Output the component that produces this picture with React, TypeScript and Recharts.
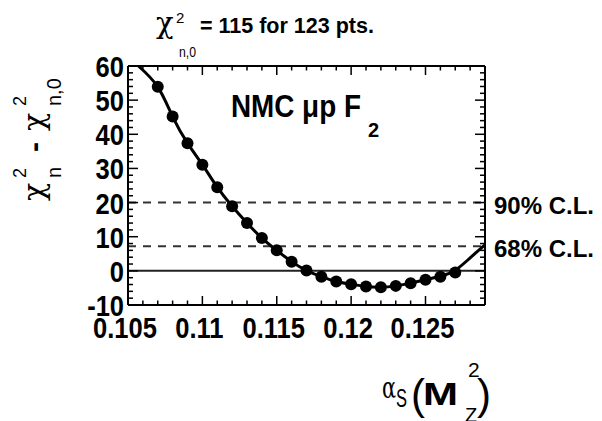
import React from 'react';
import {
  ComposedChart,
  Line,
  Scatter,
  XAxis,
  YAxis,
  ReferenceLine
} from 'recharts';

// scan points: alpha_s(M_Z^2) vs chi2_n - chi2_n,0
const alphaS = [
  0.107, 0.108, 0.109, 0.11, 0.111, 0.112, 0.113, 0.114, 0.115, 0.116, 0.117,
  0.118, 0.119, 0.12, 0.121, 0.122, 0.123, 0.124, 0.125, 0.126, 0.127
];
const deltaChi2 = [
  53.9, 45.2, 37.4, 31.1, 24.5, 18.9, 14.0, 9.6, 6.0, 2.7, 0.1,
  -1.7, -3.1, -3.9, -4.6, -4.8, -4.4, -3.6, -2.6, -1.7, -0.5
];

// fitted curve
const fitAlphaS = [
  0.1057, 0.107, 0.108, 0.109, 0.11, 0.111, 0.112, 0.113, 0.114, 0.115, 0.116, 0.117,
  0.118, 0.119, 0.12, 0.121, 0.122, 0.123, 0.124, 0.125, 0.126, 0.127, 0.128, 0.129
];
const fitChi2 = [
  60, 53.9, 45.2, 37.4, 31.1, 24.5, 18.9, 14.0, 9.6, 6.0, 2.7, 0.1,
  -1.7, -3.1, -3.9, -4.6, -4.8, -4.4, -3.6, -2.6, -1.6, 0.2, 3.8, 7.6
];

const clLevels = [20, 7.2];
const clLabels = ['90% C.L.', '68% C.L.'];

const X_MIN = 0.105;
const X_MAX = 0.129;
const Y_MIN = -10;
const Y_MAX = 60;

const xMajorTicks = [0.105, 0.11, 0.115, 0.12, 0.125];
const xTickLabels = ['0.105', '0.11', '0.115', '0.12', '0.125'];
const xAllTicks = [
  0.105, 0.106, 0.107, 0.108, 0.109, 0.11, 0.111, 0.112, 0.113, 0.114, 0.115, 0.116, 0.117,
  0.118, 0.119, 0.12, 0.121, 0.122, 0.123, 0.124, 0.125, 0.126, 0.127, 0.128, 0.129
];
const yMajorTicks = [-10, 0, 10, 20, 30, 40, 50, 60];
const yAllTicks = [
  -10, -8, -6, -4, -2, 0, 2, 4, 6, 8, 10, 12, 14, 16, 18, 20, 22, 24, 26, 28, 30,
  32, 34, 36, 38, 40, 42, 44, 46, 48, 50, 52, 54, 56, 58, 60
];

const points = alphaS.map((a, i) => ({ a, v: deltaChi2[i] }));
const fit = fitAlphaS.map((a, i) => ({ a, v: fitChi2[i] }));

// chart geometry
const W = 602;
const H = 421;
const MARGIN = { top: 66, right: 117, bottom: 0, left: 0 };
const Y_AXIS_W = 128;
const X_AXIS_H = 116;
const PLOT_X = MARGIN.left + Y_AXIS_W;
const PLOT_Y = MARGIN.top;
const PLOT_W = W - MARGIN.left - MARGIN.right - Y_AXIS_W;
const PLOT_H = H - MARGIN.top - MARGIN.bottom - X_AXIS_H;

// same linear mapping as the chart axes, used for the frame decoration
const px = (a: number) => PLOT_X + ((a - X_MIN) / (X_MAX - X_MIN)) * PLOT_W;
const py = (v: number) => PLOT_Y + ((Y_MAX - v) / (Y_MAX - Y_MIN)) * PLOT_H;

const FONT = "'Liberation Sans', Arial, Helvetica, sans-serif";
const GREEK = "'DejaVu Serif', 'Liberation Serif', serif";
const SX = 0.88;
const TICK_W = 1.5;

const near = (a: number, b: number) => Math.abs(a - b) < 1e-9;

function BottomTick(props: any) {
  const { x, y, payload } = props;
  const idx = xMajorTicks.findIndex((m) => near(m, payload.value));
  if (idx < 0) return <g />;
  return (
    <g transform={`translate(${x - 3},${y + 33}) scale(${SX},1)`}>
      <text textAnchor="middle" fontFamily={FONT} fontWeight="bold" fontSize={29} fill="#000">
        {xTickLabels[idx]}
      </text>
    </g>
  );
}

function LeftTick(props: any) {
  const { x, y, payload } = props;
  return (
    <g transform={`translate(${x - 4},${y + 11}) scale(${SX},1)`}>
      <text textAnchor="end" fontFamily={FONT} fontWeight="bold" fontSize={29} fill="#000">
        {payload.value}
      </text>
    </g>
  );
}

const clLabel = (text: string) => (props: any) => {
  const vb = props.viewBox || {};
  return (
    <text
      x={(vb.x ?? 0) + (vb.width ?? 0) + 9}
      y={(vb.y ?? 0) + 11}
      fontFamily={FONT}
      fontWeight="bold"
      fontSize={24}
      fill="#000"
    >
      {text}
    </text>
  );
};

function Frame() {
  const left = px(X_MIN);
  const right = px(X_MAX);
  const top = py(Y_MAX);
  const bottom = py(Y_MIN);
  return (
    <g stroke="#000" fill="none">
      <line x1={left} y1={top} x2={right} y2={top} strokeWidth={2} />
      <line x1={right} y1={top} x2={right} y2={bottom} strokeWidth={2} />
      {xAllTicks.map((t) => {
        const len = xMajorTicks.some((m) => near(m, t)) ? 9 : 4.5;
        const x = px(t);
        return (
          <g key={`x${t}`} strokeWidth={TICK_W}>
            <line x1={x} y1={bottom} x2={x} y2={bottom - len} />
            <line x1={x} y1={top} x2={x} y2={top + len} />
          </g>
        );
      })}
      {yAllTicks.map((t) => {
        const len = yMajorTicks.some((m) => near(m, t)) ? 10 : 5;
        const y = py(t);
        return (
          <g key={`y${t}`} strokeWidth={TICK_W}>
            <line x1={left} y1={y} x2={left + len} y2={y} />
            <line x1={right} y1={y} x2={right - len} y2={y} />
          </g>
        );
      })}
    </g>
  );
}

export default function App() {
  return (
    <div style={{ position: 'absolute', left: 0, top: 0, width: W, height: H, background: 'white' }}>
      <ComposedChart width={W} height={H} margin={MARGIN}>
        <XAxis
          xAxisId="b"
          dataKey="a"
          type="number"
          domain={[X_MIN, X_MAX]}
          ticks={xMajorTicks}
          interval={0}
          height={X_AXIS_H}
          tickSize={0}
          tickMargin={0}
          tickLine={false}
          axisLine={{ stroke: '#000', strokeWidth: 2 }}
          tick={BottomTick}
        />
        <YAxis
          yAxisId="l"
          dataKey="v"
          type="number"
          domain={[Y_MIN, Y_MAX]}
          ticks={yMajorTicks}
          interval={0}
          width={Y_AXIS_W}
          tickSize={0}
          tickMargin={0}
          tickLine={false}
          axisLine={{ stroke: '#000', strokeWidth: 2 }}
          tick={LeftTick}
        />

        <ReferenceLine xAxisId="b" yAxisId="l" y={0} stroke="#222" strokeWidth={2} />
        {clLevels.map((lvl, i) => (
          <ReferenceLine
            key={lvl}
            xAxisId="b"
            yAxisId="l"
            y={lvl}
            stroke="#333"
            strokeWidth={2}
            strokeDasharray="8 7"
            label={clLabel(clLabels[i])}
          />
        ))}

        <Line
          xAxisId="b"
          yAxisId="l"
          data={fit}
          dataKey="v"
          type="natural"
          stroke="#000"
          strokeWidth={3}
          dot={false}
          isAnimationActive={false}
        />
        <Scatter
          xAxisId="b"
          yAxisId="l"
          data={points}
          dataKey="v"
          fill="#000"
          shape={(p: any) => <circle cx={p.cx} cy={p.cy} r={6} fill="#000" />}
          isAnimationActive={false}
        />
      </ComposedChart>
      <svg
        width={W}
        height={H}
        style={{ position: 'absolute', left: 0, top: 0, pointerEvents: 'none' }}
        fontFamily={FONT}
        fill="#000"
      >
        <Frame />

        {/* title */}
        <text x={156} y={33} fontSize={29} fontFamily={GREEK}>χ</text>
        <text x={176} y={23} fontSize={15}>2</text>
        <text x={179} y={57} fontSize={15} textLength={17} lengthAdjust="spacingAndGlyphs">n,0</text>
        <text x={200} y={33} fontSize={21.5} fontWeight="bold">= 115 for 123 pts.</text>

        {/* data set label */}
        <g transform="translate(231,117) scale(0.87,1)">
          <text fontSize={32} fontWeight="bold">NMC μp F</text>
        </g>
        <text x={368} y={137} fontSize={20} fontWeight="bold">2</text>

        {/* y axis title */}
        <g transform="translate(44,201) rotate(-90)">
          <text x={0} y={0} fontSize={30} fontFamily={GREEK}>χ</text>
          <text x={23} y={-18} fontSize={18}>2</text>
          <text x={23} y={17} fontSize={20}>n</text>
          <text x={49} y={0} fontSize={30} fontWeight="bold">-</text>
          <text x={70} y={0} fontSize={30} fontFamily={GREEK}>χ</text>
          <text x={95} y={-18} fontSize={18}>2</text>
          <text x={95} y={17} fontSize={20}>n,0</text>
        </g>

        {/* x axis title */}
        <text x={382} y={398} fontSize={30} fontFamily={GREEK} textLength={14} lengthAdjust="spacingAndGlyphs">α</text>
        <text x={396} y={407} fontSize={25} textLength={11} lengthAdjust="spacingAndGlyphs">S</text>
        <text x={411} y={409} fontSize={42}>(</text>
        <text x={423} y={405} fontSize={32} fontWeight="bold" textLength={35} lengthAdjust="spacingAndGlyphs">M</text>
        <text x={468} y={377} fontSize={21}>2</text>
        <text x={465} y={422} fontSize={20}>Z</text>
        <text x={477} y={409} fontSize={42}>)</text>
      </svg>
    </div>
  );
}
